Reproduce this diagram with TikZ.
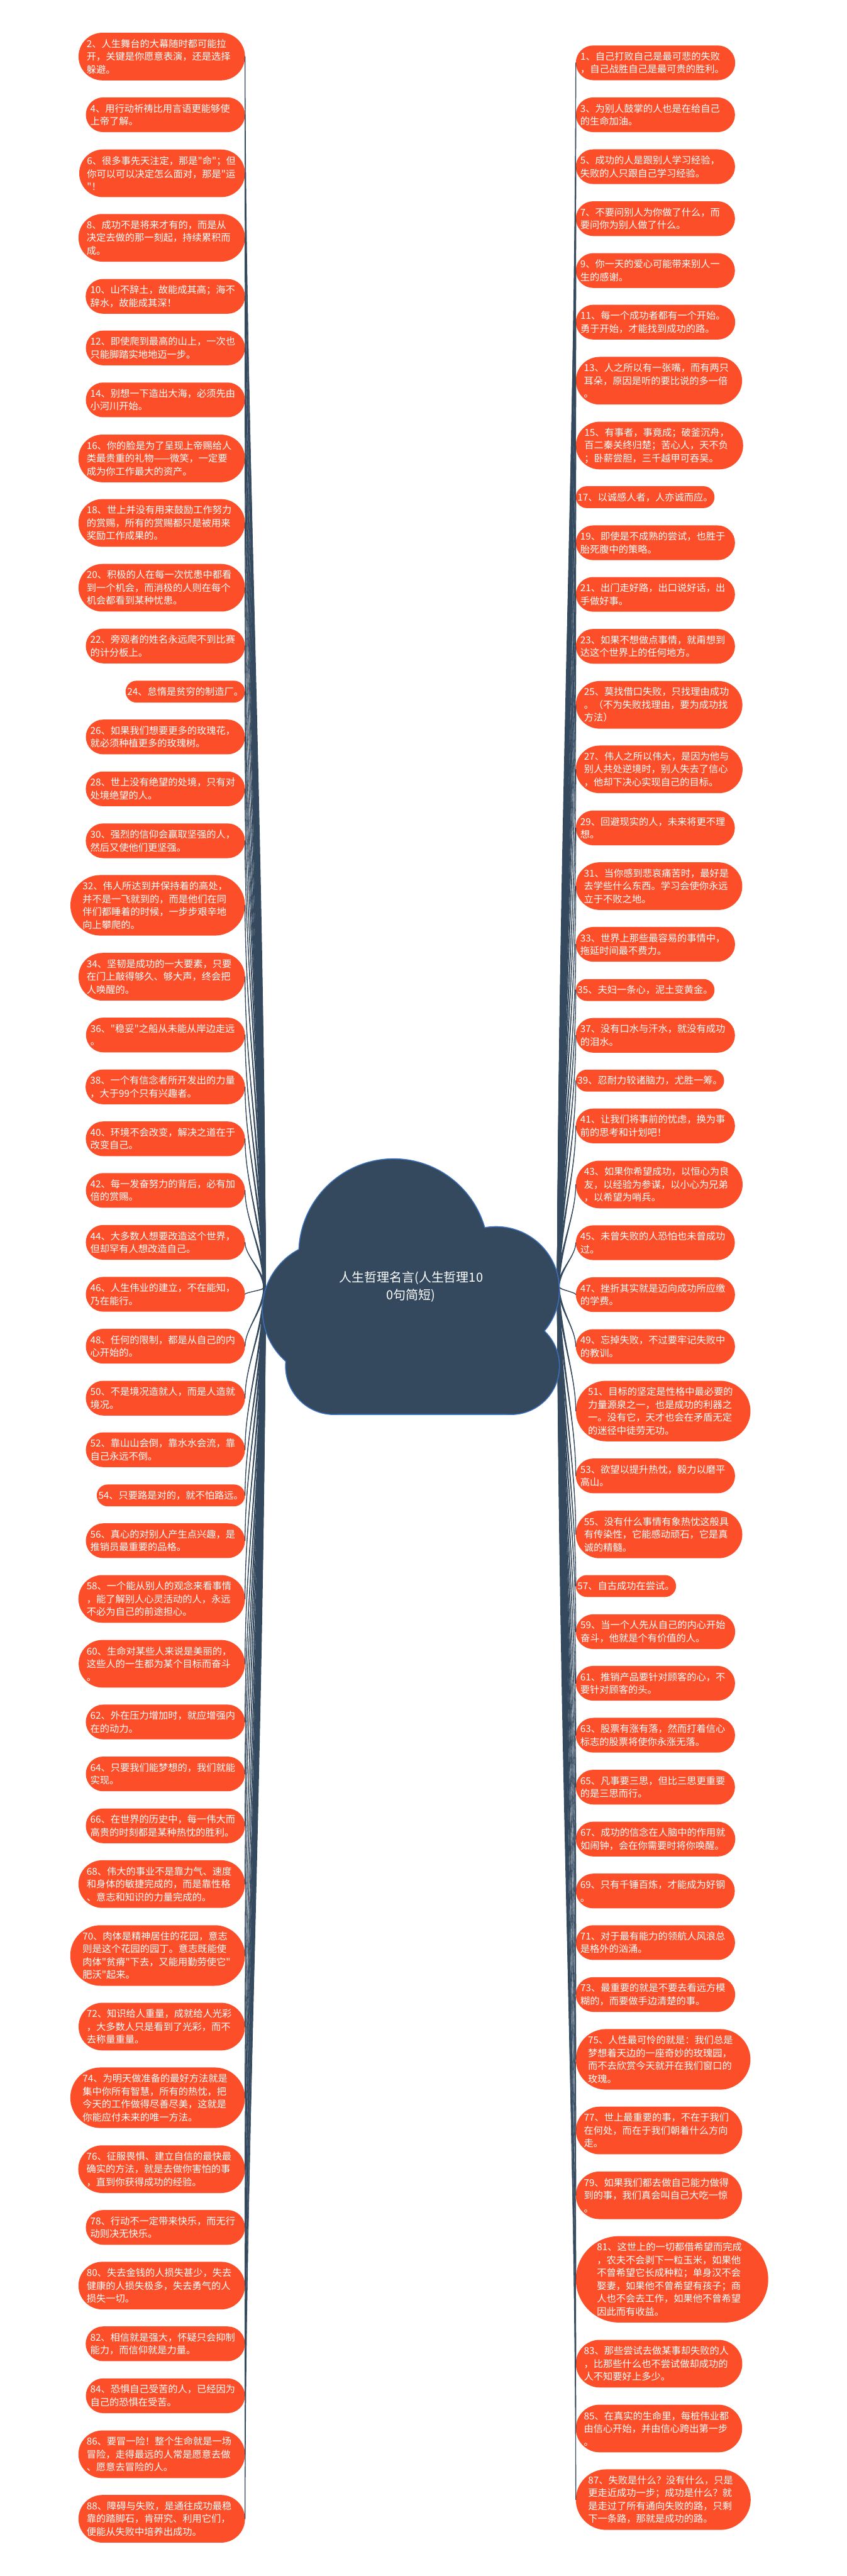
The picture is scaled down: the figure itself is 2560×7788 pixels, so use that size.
\documentclass[tikz,border=0pt]{standalone}
\usepackage{fontspec}
\newfontfamily\cjk{Noto Sans CJK SC}
\usepackage{tikz}
\usetikzlibrary{shapes.misc,calc}

\definecolor{sayfill}{RGB}{252,78,40}
\definecolor{slate}{RGB}{52,73,94}
\definecolor{cloudedge}{RGB}{58,112,190}

\newcommand\sayfont{\cjk\fontsize{29pt}{39pt}\selectfont}

\tikzset{
  saying/.style={shape=rounded rectangle, fill=sayfill, text=white, font=\sayfont,
    inner xsep=2pt, inner ysep=0pt, align=left, text width=454pt,
    minimum height=#1*39pt+27pt},
  saying/.default=2,
  oneliner/.style={saying=1, text width={}},
  twig/.style={draw=slate, line width=2.5pt, line cap=round},
  topic/.style={text=white, align=center, font=\cjk\fontsize{38pt}{52pt}\selectfont}
}

\begin{document}
\begin{tikzpicture}[x=1pt, y=-1pt]
\fill[white] (0,0) rectangle (2560,7788);
\useasboundingbox (0,0) rectangle (2560,7788);

% left column, even numbers
\node[saying=3, anchor=east] (l2) at (741,171) {2、人生舞台的大幕随时都可能拉\\开，关键是你愿意表演，还是选择\\躲避。};
\node[saying=2, anchor=east] (l4) at (741,347) {4、用行动祈祷比用言语更能够使\\上帝了解。};
\node[saying=3, anchor=east] (l6) at (741,524) {6、很多事先天注定，那是"命"；但\\你可以可以决定怎么面对，那是"运\\"！};
\node[saying=3, anchor=east] (l8) at (741,719) {8、成功不是将来才有的，而是从\\决定去做的那一刻起，持续累积而\\成。};
\node[saying=2, anchor=east] (l10) at (741,896) {10、山不辞土，故能成其高；海不\\辞水，故能成其深！};
\node[saying=2, anchor=east] (l12) at (741,1052) {12、即使爬到最高的山上，一次也\\只能脚踏实地地迈一步。};
\node[saying=2, anchor=east] (l14) at (741,1209) {14、别想一下造出大海，必须先由\\小河川开始。};
\node[saying=3, anchor=east] (l16) at (741,1386) {16、你的脸是为了呈现上帝赐给人\\类最贵重的礼物——微笑，一定要\\成为你工作最大的资产。};
\node[saying=3, anchor=east] (l18) at (741,1581) {18、世上并没有用来鼓励工作努力\\的赏赐，所有的赏赐都只是被用来\\奖励工作成果的。};
\node[saying=3, anchor=east] (l20) at (741,1777) {20、积极的人在每一次忧患中都看\\到一个机会，而消极的人则在每个\\机会都看到某种忧患。};
\node[saying=2, anchor=east] (l22) at (741,1953) {22、旁观者的姓名永远爬不到比赛\\的计分板上。};
\node[oneliner, anchor=east] (l24) at (741,2091) {24、怠惰是贫穷的制造厂。};
\node[saying=2, anchor=east] (l26) at (741,2228) {26、如果我们想要更多的玫瑰花，\\就必须种植更多的玫瑰树。};
\node[saying=2, anchor=east] (l28) at (741,2385) {28、世上没有绝望的处境，只有对\\处境绝望的人。};
\node[saying=2, anchor=east] (l30) at (741,2542) {30、强烈的信仰会赢取坚强的人，\\然后又使他们更坚强。};
\node[saying=4, anchor=east] (l32) at (741,2737) {32、伟人所达到并保持着的高处，\\并不是一飞就到的，而是他们在同\\伴们都睡着的时候，一步步艰辛地\\向上攀爬的。};
\node[saying=3, anchor=east] (l34) at (741,2953) {34、坚韧是成功的一大要素，只要\\在门上敲得够久、够大声，终会把\\人唤醒的。};
\node[saying=2, anchor=east] (l36) at (741,3129) {36、"稳妥"之船从未能从岸边走远\\。};
\node[saying=2, anchor=east] (l38) at (741,3286) {38、一个有信念者所开发出的力量\\，大于99个只有兴趣者。};
\node[saying=2, anchor=east] (l40) at (741,3443) {40、环境不会改变，解决之道在于\\改变自己。};
\node[saying=2, anchor=east] (l42) at (741,3599) {42、每一发奋努力的背后，必有加\\倍的赏赐。};
\node[saying=2, anchor=east] (l44) at (741,3756) {44、大多数人想要改造这个世界，\\但却罕有人想改造自己。};
\node[saying=2, anchor=east] (l46) at (741,3913) {46、人生伟业的建立，不在能知，\\乃在能行。};
\node[saying=2, anchor=east] (l48) at (741,4070) {48、任何的限制，都是从自己的内\\心开始的。};
\node[saying=2, anchor=east] (l50) at (741,4227) {50、不是境况造就人，而是人造就\\境况。};
\node[saying=2, anchor=east] (l52) at (741,4383) {52、靠山山会倒，靠水水会流，靠\\自己永远不倒。};
\node[oneliner, anchor=east] (l54) at (741,4521) {54、只要路是对的，就不怕路远。};
\node[saying=2, anchor=east] (l56) at (741,4658) {56、真心的对别人产生点兴趣，是\\推销员最重要的品格。};
\node[saying=3, anchor=east] (l58) at (741,4834) {58、一个能从别人的观念来看事情\\，能了解别人心灵活动的人，永远\\不必为自己的前途担心。};
\node[saying=3, anchor=east] (l60) at (741,5030) {60、生命对某些人来说是美丽的，\\这些人的一生都为某个目标而奋斗\\。};
\node[saying=2, anchor=east] (l62) at (741,5206) {62、外在压力增加时，就应增强内\\在的动力。};
\node[saying=2, anchor=east] (l64) at (741,5363) {64、只要我们能梦想的，我们就能\\实现。};
\node[saying=2, anchor=east] (l66) at (741,5520) {66、在世界的历史中，每一伟大而\\高贵的时刻都是某种热忱的胜利。};
\node[saying=3, anchor=east] (l68) at (741,5696) {68、伟大的事业不是靠力气、速度\\和身体的敏捷完成的，而是靠性格\\、意志和知识的力量完成的。};
\node[saying=4, anchor=east] (l70) at (741,5912) {70、肉体是精神居住的花园，意志\\则是这个花园的园丁。意志既能使\\肉体"贫瘠"下去，又能用勤劳使它"\\肥沃"起来。};
\node[saying=3, anchor=east] (l72) at (741,6127) {72、知识给人重量，成就给人光彩\\，大多数人只是看到了光彩，而不\\去称量重量。};
\node[saying=4, anchor=east] (l74) at (741,6342) {74、为明天做准备的最好方法就是\\集中你所有智慧，所有的热忱，把\\今天的工作做得尽善尽美，这就是\\你能应付未来的唯一方法。};
\node[saying=3, anchor=east] (l76) at (741,6558) {76、征服畏惧、建立自信的最快最\\确实的方法，就是去做你害怕的事\\，直到你获得成功的经验。};
\node[saying=2, anchor=east] (l78) at (741,6734) {78、行动不一定带来快乐，而无行\\动则决无快乐。};
\node[saying=3, anchor=east] (l80) at (741,6910) {80、失去金钱的人损失甚少，失去\\健康的人损失极多，失去勇气的人\\损失一切。};
\node[saying=2, anchor=east] (l82) at (741,7086) {82、相信就是强大，怀疑只会抑制\\能力，而信仰就是力量。};
\node[saying=2, anchor=east] (l84) at (741,7243) {84、恐惧自己受苦的人，已经因为\\自己的恐惧在受苦。};
\node[saying=3, anchor=east] (l86) at (741,7420) {86、要冒一险！整个生命就是一场\\冒险，走得最远的人常是愿意去做\\、愿意去冒险的人。};
\node[saying=3, anchor=east] (l88) at (741,7615) {88、障碍与失败，是通往成功最稳\\靠的踏脚石，肯研究、利用它们，\\便能从失败中培养出成功。};

% right column, odd numbers
\node[saying=2, anchor=west] (r1) at (1741,190) {1、自己打败自己是最可悲的失败\\，自己战胜自己是最可贵的胜利。};
\node[saying=2, anchor=west] (r3) at (1741,347) {3、为别人鼓掌的人也是在给自己\\的生命加油。};
\node[saying=2, anchor=west] (r5) at (1741,504) {5、成功的人是跟别人学习经验，\\失败的人只跟自己学习经验。};
\node[saying=2, anchor=west] (r7) at (1741,661) {7、不要问别人为你做了什么，而\\要问你为别人做了什么。};
\node[saying=2, anchor=west] (r9) at (1741,818) {9、你一天的爱心可能带来别人一\\生的感谢。};
\node[saying=2, anchor=west] (r11) at (1741,974) {11、每一个成功者都有一个开始。\\勇于开始，才能找到成功的路。};
\node[saying=3, anchor=west] (r13) at (1741,1151) {13、人之所以有一张嘴，而有两只\\耳朵，原因是听的要比说的多一倍\\。};
\node[saying=3, anchor=west] (r15) at (1741,1347) {15、有事者，事竟成；破釜沉舟，\\百二秦关终归楚；苦心人，天不负\\；卧薪尝胆，三千越甲可吞吴。};
\node[oneliner, anchor=west] (r17) at (1741,1503) {17、以诚感人者，人亦诚而应。};
\node[saying=2, anchor=west] (r19) at (1741,1641) {19、即使是不成熟的尝试，也胜于\\胎死腹中的策略。};
\node[saying=2, anchor=west] (r21) at (1741,1797) {21、出门走好路，出口说好话，出\\手做好事。};
\node[saying=2, anchor=west] (r23) at (1741,1954) {23、如果不想做点事情，就甭想到\\达这个世界上的任何地方。};
\node[saying=3, anchor=west] (r25) at (1741,2131) {25、莫找借口失败，只找理由成功\\。（不为失败找理由，要为成功找\\方法）};
\node[saying=3, anchor=west] (r27) at (1741,2326) {27、伟人之所以伟大，是因为他与\\别人共处逆境时，别人失去了信心\\，他却下决心实现自己的目标。};
\node[saying=2, anchor=west] (r29) at (1741,2503) {29、回避现实的人，未来将更不理\\想。};
\node[saying=3, anchor=west] (r31) at (1741,2679) {31、当你感到悲哀痛苦时，最好是\\去学些什么东西。学习会使你永远\\立于不败之地。};
\node[saying=2, anchor=west] (r33) at (1741,2855) {33、世界上那些最容易的事情中，\\拖延时间最不费力。};
\node[oneliner, anchor=west] (r35) at (1741,2993) {35、夫妇一条心，泥土变黄金。};
\node[saying=2, anchor=west] (r37) at (1741,3130) {37、没有口水与汗水，就没有成功\\的泪水。};
\node[oneliner, anchor=west] (r39) at (1741,3267) {39、忍耐力较诸脑力，尤胜一筹。};
\node[saying=2, anchor=west] (r41) at (1741,3404) {41、让我们将事前的忧虑，换为事\\前的思考和计划吧！};
\node[saying=3, anchor=west] (r43) at (1741,3581) {43、如果你希望成功，以恒心为良\\友，以经验为参谋，以小心为兄弟\\，以希望为哨兵。};
\node[saying=2, anchor=west] (r45) at (1741,3757) {45、未曾失败的人恐怕也未曾成功\\过。};
\node[saying=2, anchor=west] (r47) at (1741,3914) {47、挫折其实就是迈向成功所应缴\\的学费。};
\node[saying=2, anchor=west] (r49) at (1741,4071) {49、忘掉失败，不过要牢记失败中\\的教训。};
\node[saying=4, anchor=west] (r51) at (1741,4266) {51、目标的坚定是性格中最必要的\\力量源泉之一，也是成功的利器之\\一。没有它，天才也会在矛盾无定\\的迷径中徒劳无功。};
\node[saying=2, anchor=west] (r53) at (1741,4462) {53、欲望以提升热忱，毅力以磨平\\高山。};
\node[saying=3, anchor=west] (r55) at (1741,4639) {55、没有什么事情有象热忱这般具\\有传染性，它能感动顽石，它是真\\诚的精髓。};
\node[oneliner, anchor=west] (r57) at (1741,4795) {57、自古成功在尝试。};
\node[saying=2, anchor=west] (r59) at (1741,4933) {59、当一个人先从自己的内心开始\\奋斗，他就是个有价值的人。};
\node[saying=2, anchor=west] (r61) at (1741,5089) {61、推销产品要针对顾客的心，不\\要针对顾客的头。};
\node[saying=2, anchor=west] (r63) at (1741,5246) {63、股票有涨有落，然而打着信心\\标志的股票将使你永涨无落。};
\node[saying=2, anchor=west] (r65) at (1741,5403) {65、凡事要三思，但比三思更重要\\的是三思而行。};
\node[saying=2, anchor=west] (r67) at (1741,5560) {67、成功的信念在人脑中的作用就\\如闹钟，会在你需要时将你唤醒。};
\node[saying=2, anchor=west] (r69) at (1741,5717) {69、只有千锤百炼，才能成为好钢\\。};
\node[saying=2, anchor=west] (r71) at (1741,5873) {71、对于最有能力的领航人风浪总\\是格外的汹涌。};
\node[saying=2, anchor=west] (r73) at (1741,6030) {73、最重要的就是不要去看远方模\\糊的，而要做手边清楚的事。};
\node[saying=4, anchor=west] (r75) at (1741,6226) {75、人性最可怜的就是：我们总是\\梦想着天边的一座奇妙的玫瑰园，\\而不去欣赏今天就开在我们窗口的\\玫瑰。};
\node[saying=3, anchor=west] (r77) at (1741,6441) {77、世上最重要的事，不在于我们\\在何处，而在于我们朝着什么方向\\走。};
\node[saying=3, anchor=west] (r79) at (1741,6637) {79、如果我们都去做自己能力做得\\到的事，我们真会叫自己大吃一惊\\。};
\node[saying=6, anchor=west] (r81) at (1741,6891) {81、这世上的一切都借希望而完成\\，农夫不会剥下一粒玉米，如果他\\不曾希望它长成种粒；单身汉不会\\娶妻，如果他不曾希望有孩子；商\\人也不会去工作，如果他不曾希望\\因此而有收益。};
\node[saying=3, anchor=west] (r83) at (1741,7146) {83、那些尝试去做某事却失败的人\\，比那些什么也不尝试做却成功的\\人不知要好上多少。};
\node[saying=3, anchor=west] (r85) at (1741,7342) {85、在真实的生命里，每桩伟业都\\由信心开始，并由信心跨出第一步\\。};
\node[saying=4, anchor=west] (r87) at (1741,7557) {87、失败是什么？没有什么，只是\\更走近成功一步；成功是什么？就\\是走过了所有通向失败的路，只剩\\下一条路，那就是成功的路。};

% roots of the two bundles
\coordinate (lroot) at (800,3893);
\coordinate (rroot) at (1688,3890);

% tapered twigs: a wedge plus a thin stroke
\foreach \i in {2,4,...,88} {
  \path ($(lroot)!0.4!(lroot |- l\i.east)+(-5,0)$) coordinate (c1)
        ($(l\i.east)!0.3!(l\i.east |- lroot)$) coordinate (c2);
  \fill[slate] ($(lroot)+(-4,0)$) .. controls ($(c1)+(-3,0)$) and ($(c2)+(-1,0)$) .. (l\i.east)
    .. controls ($(c2)+(1,0)$) and ($(c1)+(3,0)$) .. ($(lroot)+(4,0)$) -- cycle;
  \draw[twig] (lroot) .. controls (c1) and (c2) .. (l\i.east);
}
\foreach \i in {1,3,...,87} {
  \path ($(rroot)!0.4!(rroot |- r\i.west)+(5,0)$) coordinate (c1)
        ($(r\i.west)!0.3!(r\i.west |- rroot)$) coordinate (c2);
  \fill[slate] ($(rroot)+(-4,0)$) .. controls ($(c1)+(-3,0)$) and ($(c2)+(-1,0)$) .. (r\i.west)
    .. controls ($(c2)+(1,0)$) and ($(c1)+(3,0)$) .. ($(rroot)+(4,0)$) -- cycle;
  \draw[twig] (rroot) .. controls (c1) and (c2) .. (r\i.west);
}

% cloud
\foreach \x/\y/\r in {1190/3790/285, 1000/3960/205, 1010/4130/145, 1500/3900/190, 1545/4130/145}
  \draw[cloudedge, line width=6pt] (\x,\y) circle (\r pt);
\draw[cloudedge, line width=6pt] (1010,3900) rectangle (1545,4275);
\foreach \x/\y/\r in {1190/3790/285, 1000/3960/205, 1010/4130/145, 1500/3900/190, 1545/4130/145}
  \fill[slate] (\x,\y) circle (\r pt);
\fill[slate] (1010,3900) rectangle (1545,4275);

\node[topic] (root) at (1243,3890) {人生哲理名言(人生哲理10\\0句简短)};
\end{tikzpicture}
\end{document}
